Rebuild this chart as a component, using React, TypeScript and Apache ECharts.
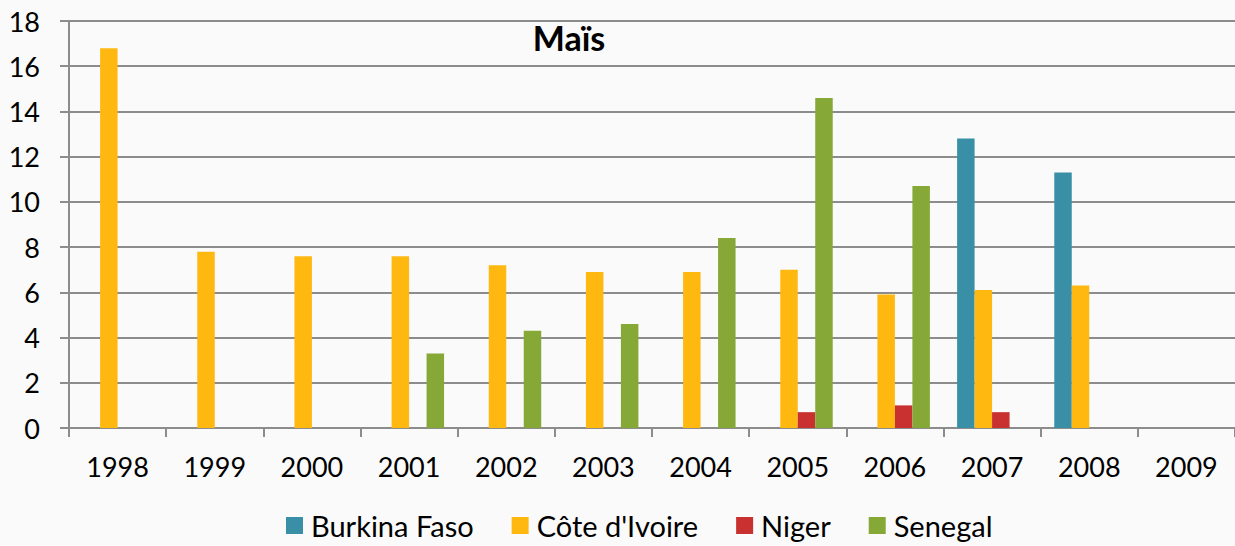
import React, { useEffect, useRef } from "react";
import * as echarts from "echarts";

const years = ["1998", "1999", "2000", "2001", "2002", "2003", "2004", "2005", "2006", "2007", "2008", "2009"];
const burkinaFaso = [null, null, null, null, null, null, null, null, null, 12.8, 11.3, null];
const coteDIvoire = [16.8, 7.8, 7.6, 7.6, 7.2, 6.9, 6.9, 7.0, 5.9, 6.1, 6.3, null];
const niger = [null, null, null, null, null, null, null, 0.7, 1.0, 0.7, null, null];
const senegal = [null, null, null, 3.3, 4.3, 4.6, 8.4, 14.6, 10.7, null, null, null];

const FONT = "Lato, 'Open Sans', sans-serif";

export default function App() {
  const ref = useRef<HTMLDivElement>(null);
  useEffect(() => {
    document.body.style.margin = "0";
    const chart = echarts.init(ref.current!, null, { renderer: "svg" });
    const mk = (name: string, data: (number | null)[], color: string) => ({
      name,
      type: "bar",
      data,
      barGap: "0%",
      barCategoryGap: "28%",
      itemStyle: { color },
    });
    chart.setOption({
      animation: false,
      backgroundColor: "#fafafa",
      title: {
        text: "Maïs",
        left: 564,
        top: 15,
        textAlign: "center",
        textStyle: { fontFamily: FONT, fontSize: 34, fontWeight: "bold", color: "#000" },
      },
      legend: {
        bottom: 1,
        left: 281,
        itemWidth: 17,
        itemHeight: 17,
        itemGap: 38,
        icon: "rect",
        textStyle: { fontFamily: FONT, fontSize: 29, color: "#000", padding: [0, 0, 0, 3] },
        data: ["Burkina Faso", "Côte d'Ivoire", "Niger", "Senegal"],
      },
      grid: { left: 69, right: 0, top: 21, bottom: 118 },
      xAxis: {
        type: "category",
        data: years,
        boundaryGap: true,
        axisLine: { lineStyle: { color: "#8c8c8c", width: 2 } },
        axisTick: { show: true, length: 9, lineStyle: { color: "#8c8c8c", width: 2 } },
        axisLabel: { fontFamily: FONT, fontSize: 27, color: "#000", margin: 25 },
      },
      yAxis: {
        type: "value",
        min: 0,
        max: 18,
        interval: 2,
        axisLine: { show: true, lineStyle: { color: "#8c8c8c", width: 2 } },
        axisTick: { show: true, length: 9, lineStyle: { color: "#8c8c8c", width: 2 } },
        splitLine: { lineStyle: { color: "#8c8c8c", width: 2 } },
        axisLabel: { fontFamily: FONT, fontSize: 27, color: "#000", margin: 29 },
      },
      series: [
        mk("Burkina Faso", burkinaFaso, "#3990a6"),
        mk("Côte d'Ivoire", coteDIvoire, "#ffb80f"),
        mk("Niger", niger, "#c93030"),
        mk("Senegal", senegal, "#86a836"),
      ],
    });
    return () => chart.dispose();
  }, []);
  return <div ref={ref} style={{ width: 1235, height: 546 }} />;
}
